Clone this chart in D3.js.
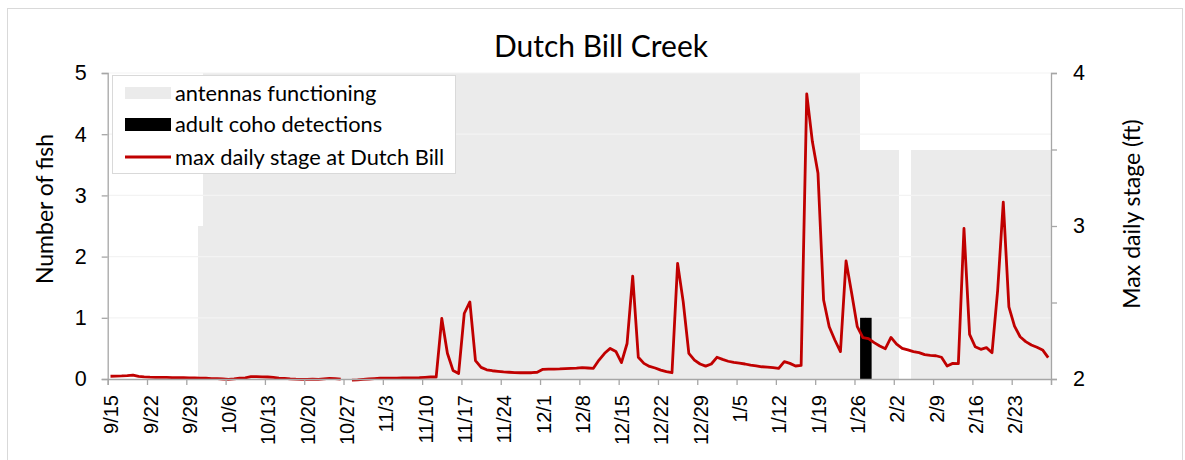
<!DOCTYPE html>
<html>
<head>
<meta charset="utf-8">
<script src="https://cdn.jsdelivr.net/npm/d3@7"></script>
<style>
  body { margin: 0; background: #fff; }
  svg { display: block; font-family: Lato, "Open Sans", sans-serif; }
  .axis path, .axis line { stroke: #a6a6a6; stroke-width: 1.3; }
  .axis text { fill: #000; }
</style>
</head>
<body>
<svg width="1185" height="460"></svg>
<script>
const width = 1185;
const height = 460;
const plot = { left: 107.7, right: 1051, top: 73, bottom: 379 };

// first day of the daily record, last day is startDate + 167
const startDate = "2015-09-15";
const endDate = "2016-03-01";

// max daily stage at Dutch Bill (ft), one value per day from 9/15
const stageFt = [
  2.018, 2.019, 2.020, 2.022, 2.026, 2.017, 2.014, 2.012, 2.011, 2.010,
  2.010, 2.009, 2.009, 2.009, 2.008, 2.007, 2.006, 2.005, 2.003, 2.002,
  2.000, 1.998, 2.001, 2.005, 2.008, 2.015, 2.015, 2.014, 2.013, 2.010,
  2.006, 2.004, 2.001, 1.999, 1.998, 1.998, 1.999, 1.998, 2.001, 2.004,
  2.003, 1.999, null, 1.992, 1.994, 1.997, 2.000, 2.003, 2.005, 2.005,
  2.006, 2.006, 2.007, 2.008, 2.008, 2.009, 2.011, 2.013, 2.013, 2.396,
  2.168, 2.056, 2.036, 2.428, 2.504, 2.120, 2.076, 2.060, 2.054, 2.050,
  2.046, 2.044, 2.042, 2.041, 2.041, 2.041, 2.044, 2.063, 2.064, 2.065,
  2.066, 2.068, 2.070, 2.071, 2.074, 2.072, 2.070, 2.124, 2.168, 2.200,
  2.180, 2.107, 2.232, 2.672, 2.142, 2.102, 2.082, 2.072, 2.058, 2.048,
  2.041, 2.756, 2.504, 2.168, 2.124, 2.098, 2.084, 2.098, 2.142, 2.128,
  2.116, 2.108, 2.104, 2.098, 2.090, 2.086, 2.080, 2.078, 2.074, 2.070,
  2.114, 2.102, 2.085, 2.089, 3.864, 3.552, 3.344, 2.516, 2.342, 2.255,
  2.179, 2.772, 2.560, 2.342, 2.270, 2.264, 2.238, 2.216, 2.198, 2.272,
  2.228, 2.200, 2.190, 2.179, 2.172, 2.159, 2.155, 2.152, 2.142, 2.085,
  2.102, 2.100, 2.984, 2.292, 2.211, 2.194, 2.205, 2.172, 2.580, 3.156,
  2.472, 2.346, 2.276, 2.244, 2.222, 2.207, 2.190, 2.140
];

// antennas functioning (plotted on the fish axis)
const antennaFrom = ["2015-10-01", "2015-10-02", "2016-01-27", "2016-02-05"];
const antennaTo = ["2015-10-02", "2016-01-27", "2016-02-03", "2016-03-01"];
const antennaLevel = [2.5, 5, 3.75, 3.75];

// adult coho detections
const detectDates = ["2016-01-27", "2016-01-28"];
const detectCount = [1, 1];

const fishTicks = [0, 1, 2, 3, 4, 5];
const stageTicks = [2, 2.5, 3, 3.5, 4];
const legendLabels = ["antennas functioning", "adult coho detections", "max daily stage at Dutch Bill"];

const parse = d3.utcParse("%Y-%m-%d");
const start = parse(startDate);
const end = parse(endDate);

const svg = d3.select("svg");

const x = d3.scaleUtc()
  .domain([start, end])
  .range([plot.left, plot.right]);

const yFish = d3.scaleLinear()
  .domain([0, 5])
  .range([plot.bottom, plot.top]);

const yStage = d3.scaleLinear()
  .domain([2, 4])
  .range([plot.bottom, plot.top]);

// points sit in the middle of their day
const mid = d => x(d3.utcHour.offset(d, 12));

// chart border
svg.append("rect")
  .attr("x", 7.5).attr("y", 8.5)
  .attr("width", 1175).attr("height", 470)
  .attr("fill", "#fff")
  .attr("stroke", "#d9d9d9");

// antennas functioning blocks
const antenna = antennaFrom.map((d, i) => ({
  from: parse(d), to: parse(antennaTo[i]), level: antennaLevel[i]
}));

svg.append("g")
  .selectAll("rect")
  .data(antenna)
  .join("rect")
  .attr("x", d => x(d.from))
  .attr("width", d => x(d.to) - x(d.from))
  .attr("y", d => yFish(d.level))
  .attr("height", d => yFish(0) - yFish(d.level))
  .attr("fill", "#ebebeb")
  .attr("shape-rendering", "crispEdges");

// gridlines
svg.append("g")
  .selectAll("line")
  .data(fishTicks.slice(1))
  .join("line")
  .attr("x1", plot.left).attr("x2", plot.right)
  .attr("y1", d => yFish(d)).attr("y2", d => yFish(d))
  .attr("stroke", "#f3f3f3")
  .attr("stroke-width", 1.2);

// detections
const detections = detectDates.map((d, i) => ({ date: parse(d), n: detectCount[i] }));

svg.append("g")
  .selectAll("rect")
  .data(detections)
  .join("rect")
  .attr("x", d => x(d.date))
  .attr("width", d => x(d3.utcDay.offset(d.date, 1)) - x(d.date) + 0.3)
  .attr("y", d => yFish(d.n))
  .attr("height", d => yFish(0) - yFish(d.n))
  .attr("fill", "#000");

// stage line
const stage = stageFt.map((v, i) => ({ date: d3.utcDay.offset(start, i), v }));

const line = d3.line()
  .defined(d => d.v !== null)
  .x(d => mid(d.date))
  .y(d => yStage(d.v));

svg.append("path")
  .datum(stage)
  .attr("d", line)
  .attr("fill", "none")
  .attr("stroke", "#c00000")
  .attr("stroke-width", 2.8)
  .attr("stroke-linejoin", "round");

// x axis, a tick every 7 days
const weekTicks = d3.utcDay.range(start, d3.utcDay.offset(end, 1), 7);
const fmt = d3.utcFormat("%-m/%-d");

const xAxis = svg.append("g")
  .attr("class", "axis")
  .attr("transform", `translate(0,${plot.bottom})`)
  .call(d3.axisBottom(x)
    .tickValues(weekTicks)
    .tickSizeOuter(0)
    .tickSize(6)
    .tickFormat(d => +d === +end ? "" : fmt(d)));

xAxis.selectAll("text")
  .attr("font-size", 20)
  .attr("transform", "rotate(-90)")
  .attr("text-anchor", "end")
  .attr("x", -16)
  .attr("y", 0)
  .attr("dy", "0.5em");

// left axis
svg.append("g")
  .attr("class", "axis")
  .attr("transform", `translate(${plot.left},0)`)
  .call(d3.axisLeft(yFish)
    .tickValues(fishTicks)
    .tickSizeOuter(0)
    .tickSize(6)
    .tickPadding(15)
    .tickFormat(d3.format("d")))
  .selectAll("text")
  .attr("font-size", 21.5);

// right axis
svg.append("g")
  .attr("class", "axis")
  .attr("transform", `translate(${plot.right},0)`)
  .call(d3.axisRight(yStage)
    .tickValues(stageTicks)
    .tickSizeOuter(0)
    .tickSize(6)
    .tickPadding(16)
    .tickFormat(d => Number.isInteger(d) ? d : ""))
  .selectAll("text")
  .attr("font-size", 21.5);

// titles
svg.append("text")
  .attr("x", 601).attr("y", 57)
  .attr("text-anchor", "middle")
  .attr("font-size", 30)
  .text("Dutch Bill Creek");

svg.append("text")
  .attr("transform", "translate(53,209) rotate(-90)")
  .attr("text-anchor", "middle")
  .attr("font-size", 23)
  .text("Number of fish");

svg.append("text")
  .attr("transform", "translate(1140,214) rotate(-90)")
  .attr("text-anchor", "middle")
  .attr("font-size", 23)
  .text("Max daily stage (ft)");

// legend
const legend = svg.append("g").attr("transform", "translate(112,75)");

legend.append("rect")
  .attr("x", 0.5).attr("y", 0.5)
  .attr("width", 343).attr("height", 98)
  .attr("fill", "#fff")
  .attr("stroke", "#d9d9d9");

const rowY = [18, 49.5, 82];

legend.append("rect")
  .attr("x", 13).attr("y", rowY[0] - 6)
  .attr("width", 46).attr("height", 12)
  .attr("fill", "#ebebeb");

legend.append("rect")
  .attr("x", 13).attr("y", rowY[1] - 6.5)
  .attr("width", 46).attr("height", 13)
  .attr("fill", "#000");

legend.append("line")
  .attr("x1", 13).attr("x2", 59)
  .attr("y1", rowY[2]).attr("y2", rowY[2])
  .attr("stroke", "#c00000")
  .attr("stroke-width", 2.8);

legend.selectAll("text.lab")
  .data(legendLabels)
  .join("text")
  .attr("class", "lab")
  .attr("x", 63)
  .attr("y", (d, i) => rowY[i])
  .attr("dy", "0.35em")
  .attr("font-size", 21.8)
  .text(d => d);
</script>
</body>
</html>
